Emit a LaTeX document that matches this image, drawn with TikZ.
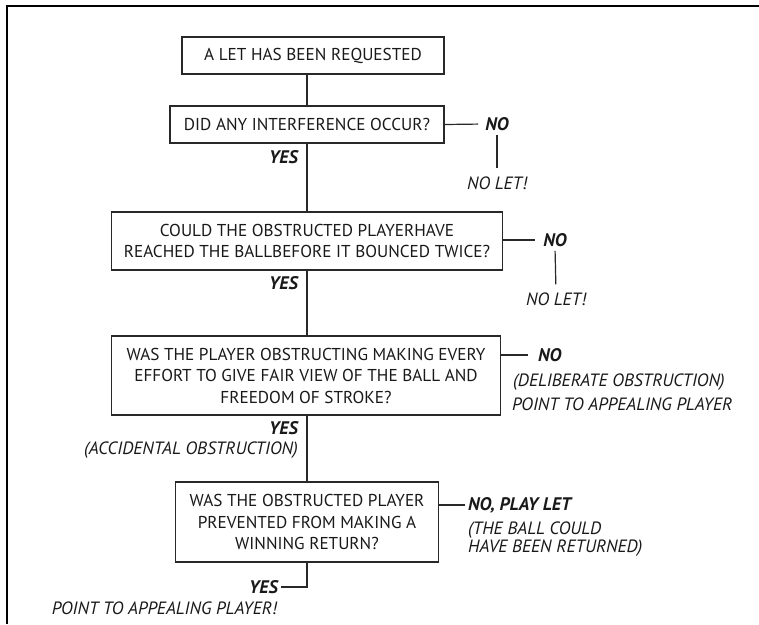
\documentclass[tikz,border=0pt]{standalone}
\usepackage{fontspec}
\setmainfont{PT Sans}
\definecolor{boxgray}{RGB}{40,40,40}
\definecolor{txtgray}{RGB}{25,25,25}
\begin{document}
\begin{tikzpicture}[x=1pt, y=-1pt, font=\fontsize{17.2}{21.5}\selectfont,
		box/.style = {draw=boxgray, line width=1.2pt, align=center, inner sep=0pt, text=txtgray},
		ans/.style = {font=\fontsize{18.2}{20}\selectfont\bfseries\itshape, inner sep=1pt, text=txtgray},
		note/.style = {font=\fontsize{17.8}{18}\selectfont\itshape, inner sep=1pt, text=txtgray},
		link/.style = {draw=boxgray, line width=1.2pt}]
	\useasboundingbox (0,0) rectangle (759,624);
	\draw[line width=2pt] (7,624) -- (7,6) -- (759,6);

	% questions
	\node[box, minimum width=262, minimum height=37] (req) at (313,55.5) {A LET HAS BEEN REQUESTED};
	\node[box, minimum width=274, minimum height=37] (interf) at (307,124.5) {DID ANY INTERFERENCE OCCUR?};
	\node[box, minimum width=391, minimum height=58] (reach) at (307,241) {COULD THE OBSTRUCTED PLAYERHAVE\\REACHED THE BALLBEFORE IT BOUNCED TWICE?};
	\node[box, minimum width=389, minimum height=79] (effort) at (306,375.5) {WAS THE PLAYER OBSTRUCTING MAKING EVERY\\EFFORT TO GIVE FAIR VIEW OF THE BALL AND\\FREEDOM OF STROKE?};
	\node[box, minimum width=263, minimum height=80] (prevent) at (307,522) {WAS THE OBSTRUCTED PLAYER\\PREVENTED FROM MAKING A\\WINNING RETURN?};

	% answers
	\node[ans] (no1) at (497,124) {NO};
	\node[note] (nolet1) at (497,183) {NO LET!};
	\node[ans, anchor=east] (yes1) at (299,157) {YES};
	\node[ans] (no2) at (555,240) {NO};
	\node[note] (nolet2) at (556,299) {NO LET!};
	\node[ans, anchor=east] (yes2) at (299,283) {YES};
	\node[ans, anchor=west] (no3) at (537,355) {NO};
	\node[note, anchor=west] (delib) at (512,382) {(DELIBERATE OBSTRUCTION)};
	\node[note, anchor=west] (point1) at (511,404) {POINT TO APPEALING PLAYER};
	\node[ans, anchor=east] (yes3) at (299,428) {YES};
	\node[note, anchor=east] (accid) at (299,450) {(ACCIDENTAL OBSTRUCTION)};
	\node[ans, anchor=west] (no4) at (467,505) {NO, PLAY LET};
	\node[note, anchor=west, align=left] (returned) at (467,539) {(THE BALL COULD\\HAVE BEEN RETURNED)};
	\node[ans, anchor=east] (yes4) at (279,587) {YES};
	\node[note, anchor=east] (point2) at (278,608) {POINT TO APPEALING PLAYER!};

	% connectors
	\draw[link] (interf.north |- req.south) -- (interf.north);
	\draw[link] (interf.south) -- (reach.north);
	\draw[link] (reach.south) -- (effort.north -| reach.south);
	\draw[link] (effort.south -| prevent.north) -- (prevent.north);
	\draw[link, shorten >=6] (interf.east) -- (no1.west);
	\draw[link, shorten <=3, shorten >=7] (no1.south) -- (nolet1.north);
	\draw[link, shorten >=7] (reach.east |- no2) -- (no2.west);
	\draw[link, shorten <=3, shorten >=7] (no2.south) -- (nolet2.north);
	\draw[link, shorten >=9] (effort.east |- no3) -- (no3.west);
	\draw[link, shorten >=2] (prevent.east |- no4) -- (no4.west);
	\draw[link, shorten >=2] (prevent.south) |- (yes4.east);
\end{tikzpicture}
\end{document}
